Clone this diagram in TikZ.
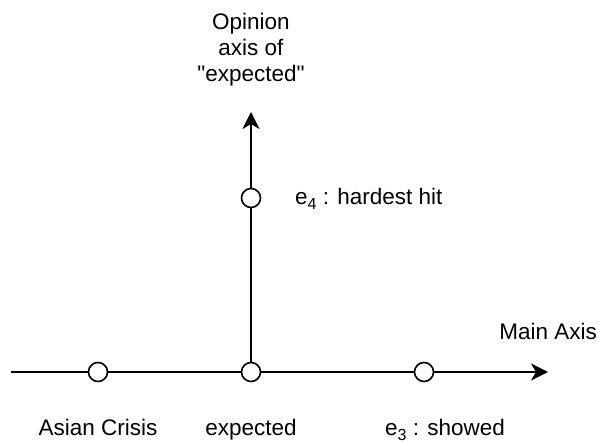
\documentclass[tikz,border=0pt]{standalone}
\usepackage{fontspec}
\setmainfont{Liberation Sans}[Ligatures=TeXOff]
\usetikzlibrary{arrows.meta}
\newcommand{\sbs}[1]{\raisebox{-0.22em}{\fontsize{16}{16}\selectfont #1}}
\begin{document}
\begin{tikzpicture}[x=1pt,y=-1pt,
  axis/.style={line width=2pt,-{Stealth[length=17pt,width=17pt,inset=5pt]}},
  pt/.style={circle,draw,line width=1.6pt,fill=white,minimum size=19pt,inner sep=0pt},
  lbl/.style={font=\fontsize{22.5}{26}\selectfont,inner sep=0pt},
]
\useasboundingbox (0,0) rectangle (598,443);
\coordinate (L) at (11,372);
\coordinate (R) at (548,372);
\coordinate (T) at (251,112);
\draw[axis] (L) -- (R);
\node[pt] (expected) at (251,372) {};
\draw[axis] (expected) -- (T);
\node[pt] (asian) at (98,372) {};
\node[pt] (showed) at (424,372) {};
\node[pt] (hardest) at (251,198) {};
\node[lbl,align=center,anchor=north] (title) at (251,13) {Opinion\\axis of\\"expected"};
\node[lbl,anchor=base west] (e4) at (295,205) {e\sbs{4} : hardest hit};
\node[lbl,anchor=base east] (main) at (597,340) {Main Axis};
\node[lbl,anchor=base] (asianl) at (98,436) {Asian Crisis};
\node[lbl,anchor=base] (expl) at (251,436) {expected};
\node[lbl,anchor=base west] (e3) at (385,436) {e\sbs{3} : showed};
\end{tikzpicture}
\end{document}
